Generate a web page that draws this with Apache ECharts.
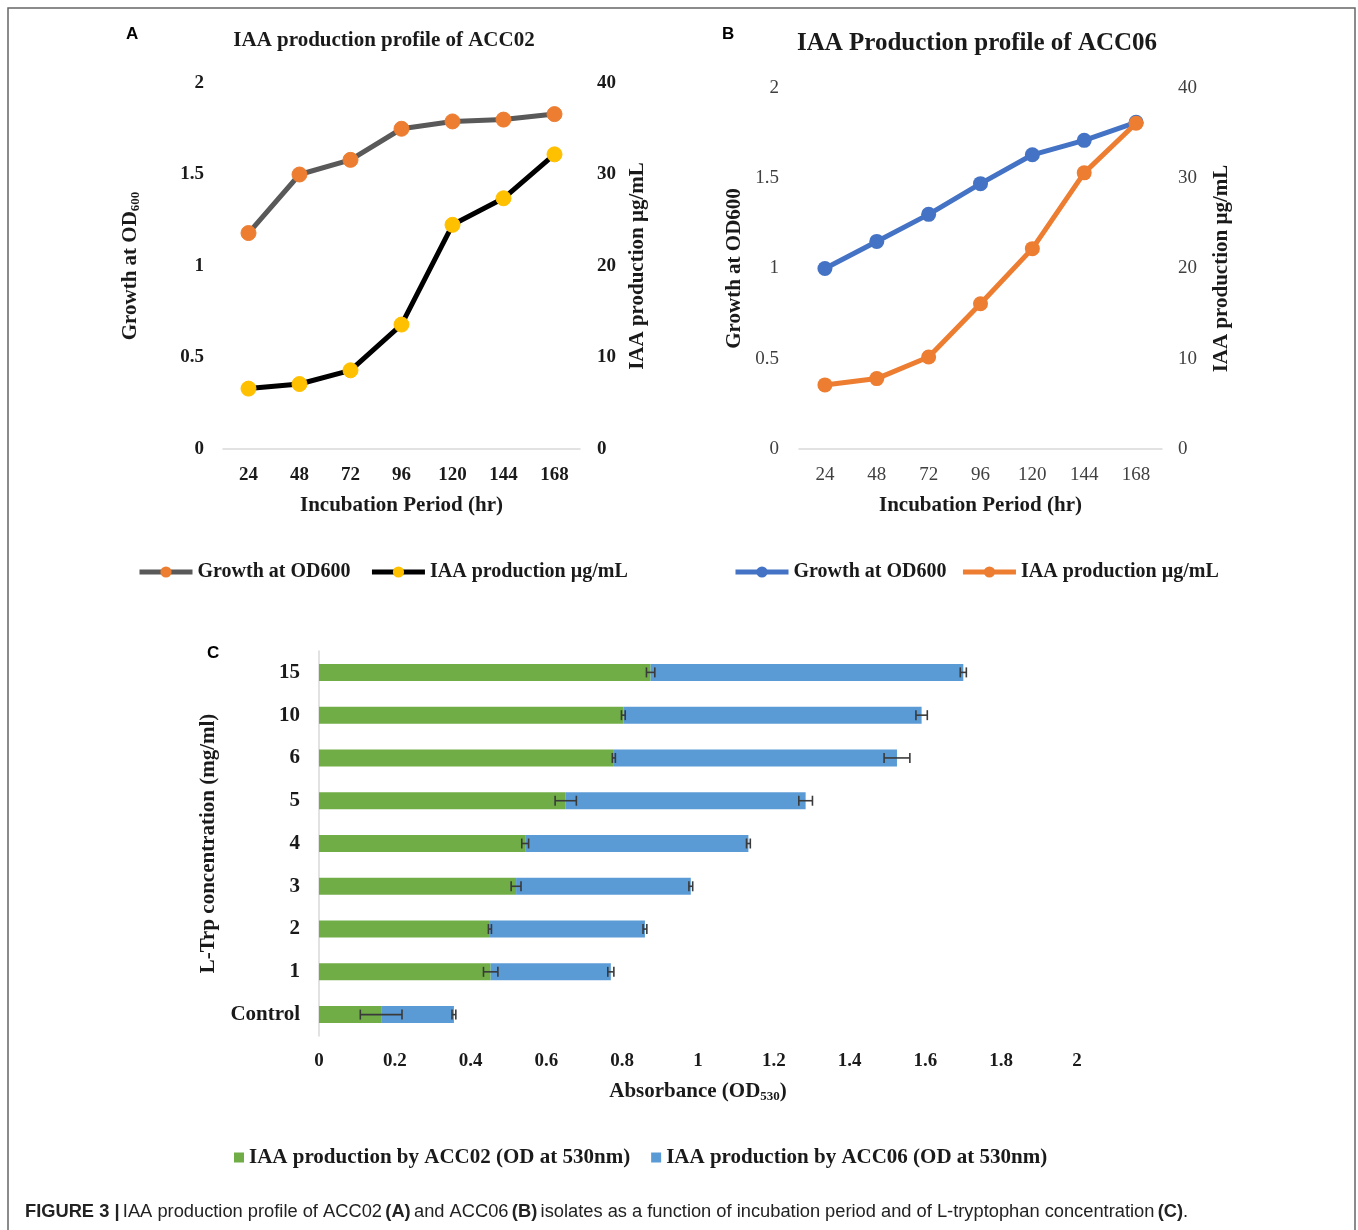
<!DOCTYPE html>
<html><head><meta charset="utf-8">
<script src="https://cdn.jsdelivr.net/npm/echarts@6/dist/echarts.min.js"></script>
<style>html,body{margin:0;padding:0;background:#fff}#c{width:1358px;height:1230px}</style>
</head><body><div id="c"></div>
<script>
// ---- Data ----
const hours = ['24', '48', '72', '96', '120', '144', '168'];
const growthA = [1.18, 1.50, 1.58, 1.75, 1.79, 1.80, 1.83];
const iaaA = [6.6, 7.1, 8.6, 13.6, 24.5, 27.4, 32.2];
const growthB = [1.00, 1.15, 1.30, 1.47, 1.63, 1.71, 1.81];
const iaaB = [7.1, 7.8, 10.2, 16.1, 22.2, 30.6, 36.1];

const trpCats = ['Control', '1', '2', '3', '4', '5', '6', '10', '15'];
const acc02 = [0.164, 0.453, 0.451, 0.520, 0.544, 0.651, 0.778, 0.803, 0.875];
const acc06 = [0.192, 0.317, 0.409, 0.461, 0.589, 0.633, 0.747, 0.787, 0.825];
const acc02Err = [0.055, 0.019, 0.004, 0.013, 0.009, 0.028, 0.004, 0.005, 0.011];
const acc06Err = [0.005, 0.008, 0.005, 0.005, 0.005, 0.018, 0.034, 0.015, 0.008];

// ---- Styles ----
const SERIF = '"Liberation Serif", "DejaVu Serif", serif';
const SANS = '"Liberation Sans", Arial, sans-serif';
const bold19 = { fontFamily: SERIF, fontWeight: 'bold', fontSize: 19, color: '#1a1a1a' };
const bold20 = { fontFamily: SERIF, fontWeight: 'bold', fontSize: 20, color: '#1a1a1a' };
const bold21 = { fontFamily: SERIF, fontWeight: 'bold', fontSize: 21, color: '#1a1a1a' };
const subRich = {
  b: { fontFamily: SERIF, fontWeight: 'bold', fontSize: 21, color: '#1a1a1a' },
  s: { fontFamily: SERIF, fontWeight: 'bold', fontSize: 13, color: '#1a1a1a', verticalAlign: 'bottom', padding: [9, 0, 0, 0] }
};

const chart = echarts.init(document.getElementById('c'), null, { renderer: 'canvas' });

function errBarSeries(name, xIdx, yIdx, data) {
  return {
    type: 'custom', name: name, xAxisIndex: xIdx, yAxisIndex: yIdx, z: 10,
    encode: { x: 0, y: 1 },
    data: data,
    renderItem: function (params, api) {
      const end = api.value(0), idx = api.value(1), err = api.value(2);
      const p1 = api.coord([end - err, idx]);
      const p2 = api.coord([end + err, idx]);
      const h = 5;
      const st = { stroke: '#3a3a3a', lineWidth: 1.6 };
      return {
        type: 'group',
        children: [
          { type: 'line', shape: { x1: p1[0], y1: p1[1], x2: p2[0], y2: p2[1] }, style: st },
          { type: 'line', shape: { x1: p1[0], y1: p1[1] - h, x2: p1[0], y2: p1[1] + h }, style: st },
          { type: 'line', shape: { x1: p2[0], y1: p2[1] - h, x2: p2[0], y2: p2[1] + h }, style: st }
        ]
      };
    }
  };
}

const totals = acc02.map((v, i) => v + acc06[i]);

const option = {
  animation: false,
  backgroundColor: '#fff',
  title: [
    { text: 'IAA production profile of ACC02', left: 379, top: 25, textAlign: 'center',
      textStyle: { fontFamily: SERIF, fontWeight: 'bold', fontSize: 21, color: '#1a1a1a' } },
    { text: 'IAA Production profile of ACC06', left: 972, top: 26, textAlign: 'center',
      textStyle: { fontFamily: SERIF, fontWeight: 'bold', fontSize: 25, color: '#1a1a1a' } }
  ],
  legend: [
    { left: 137, top: 562, padding: 0, itemWidth: 53, itemHeight: 14, itemGap: 19,
      lineStyle: { width: 5 },
      data: ['Growth at OD600', 'IAA production µg/mL'],
      textStyle: bold20 },
    { left: 733, top: 562, padding: 0, itemWidth: 53, itemHeight: 14, itemGap: 14,
      lineStyle: { width: 5 },
      data: ['Growth at OD600 (B)', 'IAA production µg/mL (B)'],
      formatter: n => n.replace(' (B)', ''),
      textStyle: bold20 },
    { left: 234, top: 1147, padding: 0, itemWidth: 10, itemHeight: 10, itemGap: 21, icon: 'rect',
      data: ['IAA production by ACC02 (OD at 530nm)', 'IAA production by ACC06 (OD at 530nm)'],
      textStyle: bold21 }
  ],
  grid: [
    { left: 223, top: 83, width: 357, height: 366, containLabel: false },
    { left: 799, top: 88, width: 363, height: 361, containLabel: false },
    { left: 319, top: 651, width: 758, height: 385, containLabel: false }
  ],
  xAxis: [
    { type: 'category', gridIndex: 0, data: hours, boundaryGap: true,
      axisLine: { lineStyle: { color: '#d9d9d9', width: 1.5 } }, axisTick: { show: false },
      axisLabel: Object.assign({ margin: 17 }, bold19),
      name: 'Incubation Period (hr)', nameLocation: 'middle', nameGap: 46, nameTextStyle: bold21 },
    { type: 'category', gridIndex: 1, data: hours, boundaryGap: true,
      axisLine: { lineStyle: { color: '#d9d9d9', width: 1.5 } }, axisTick: { show: false },
      axisLabel: { margin: 17, fontFamily: SERIF, fontSize: 19, color: '#404040' },
      name: 'Incubation Period (hr)', nameLocation: 'middle', nameGap: 46, nameTextStyle: bold21 },
    { type: 'value', gridIndex: 2, min: 0, max: 2, interval: 0.2,
      axisLine: { show: false }, axisTick: { show: false }, splitLine: { show: false },
      axisLabel: Object.assign({ margin: 16 }, bold19),
      name: '{b|Absorbance (OD}{s|530}{b|)}', nameLocation: 'middle', nameGap: 45,
      nameTextStyle: { rich: subRich } }
  ],
  yAxis: [
    { type: 'value', gridIndex: 0, min: 0, max: 2, interval: 0.5,
      axisLine: { show: false }, axisTick: { show: false }, splitLine: { show: false },
      axisLabel: Object.assign({ margin: 19 }, bold19),
      name: '{b|Growth at OD}{s|600}', nameLocation: 'middle', nameGap: 81, nameRotate: 90,
      nameTextStyle: { rich: subRich } },
    { type: 'value', gridIndex: 0, position: 'right', min: 0, max: 40, interval: 10,
      axisLine: { show: false }, axisTick: { show: false }, splitLine: { show: false },
      axisLabel: Object.assign({ margin: 17 }, bold19),
      name: 'IAA production µg/mL', nameLocation: 'middle', nameGap: 47, nameRotate: 90,
      nameTextStyle: bold21 },
    { type: 'value', gridIndex: 1, min: 0, max: 2, interval: 0.5,
      axisLine: { show: false }, axisTick: { show: false }, splitLine: { show: false },
      axisLabel: { margin: 20, fontFamily: SERIF, fontSize: 19, color: '#404040' },
      name: 'Growth at OD600', nameLocation: 'middle', nameGap: 54, nameRotate: 90,
      nameTextStyle: bold21 },
    { type: 'value', gridIndex: 1, position: 'right', min: 0, max: 40, interval: 10,
      axisLine: { show: false }, axisTick: { show: false }, splitLine: { show: false },
      axisLabel: { margin: 16, fontFamily: SERIF, fontSize: 19, color: '#404040' },
      name: 'IAA production µg/mL', nameLocation: 'middle', nameGap: 49, nameRotate: 90,
      nameTextStyle: bold21 },
    { type: 'category', gridIndex: 2, data: trpCats, boundaryGap: true,
      axisLine: { lineStyle: { color: '#d9d9d9', width: 1.5 } }, axisTick: { show: false },
      axisLabel: Object.assign({ margin: 19 }, bold21),
      name: 'L-Trp concentration (mg/ml)', nameLocation: 'middle', nameGap: 96, nameRotate: 90,
      nameTextStyle: bold21 }
  ],
  series: [
    { name: 'Growth at OD600', type: 'line', xAxisIndex: 0, yAxisIndex: 0, data: growthA,
      symbol: 'circle', symbolSize: 15, lineStyle: { color: '#595959', width: 5 },
      itemStyle: { color: '#ED7D31', borderColor: '#ED7D31' } },
    { name: 'IAA production µg/mL', type: 'line', xAxisIndex: 0, yAxisIndex: 1, data: iaaA,
      symbol: 'circle', symbolSize: 15, lineStyle: { color: '#000000', width: 5 },
      itemStyle: { color: '#FFC000', borderColor: '#FFC000' } },
    { name: 'Growth at OD600 (B)', type: 'line', xAxisIndex: 1, yAxisIndex: 2, data: growthB,
      symbol: 'circle', symbolSize: 15, lineStyle: { color: '#4472C4', width: 5 },
      itemStyle: { color: '#4472C4' } },
    { name: 'IAA production µg/mL (B)', type: 'line', xAxisIndex: 1, yAxisIndex: 3, data: iaaB,
      symbol: 'circle', symbolSize: 15, lineStyle: { color: '#ED7D31', width: 5 },
      itemStyle: { color: '#ED7D31' } },
    { name: 'IAA production by ACC02 (OD at 530nm)', type: 'bar', xAxisIndex: 2, yAxisIndex: 4,
      stack: 'c', data: acc02, barWidth: 17, itemStyle: { color: '#70AD47' } },
    { name: 'IAA production by ACC06 (OD at 530nm)', type: 'bar', xAxisIndex: 2, yAxisIndex: 4,
      stack: 'c', data: acc06, barWidth: 17, itemStyle: { color: '#5B9BD5' } },
    errBarSeries('errA', 2, 4, acc02.map((v, i) => [v, i, acc02Err[i]])),
    errBarSeries('errB', 2, 4, totals.map((v, i) => [v, i, acc06Err[i]]))
  ],
  graphic: [
    { type: 'rect', shape: { x: 8, y: 8, width: 1347, height: 1260 }, silent: true,
      style: { fill: 'none', stroke: '#666', lineWidth: 1.5 } },
    { type: 'text', x: 126, y: 26, style: { text: 'A', font: 'bold 17px ' + SANS, fill: '#000' } },
    { type: 'text', x: 722, y: 26, style: { text: 'B', font: 'bold 17px ' + SANS, fill: '#000' } },
    { type: 'text', x: 207, y: 645, style: { text: 'C', font: 'bold 17px ' + SANS, fill: '#000' } },
    { type: 'text', x: 25, y: 1203, style: {
        text: '{b|FIGURE 3 |} {n|IAA production profile of ACC02} {b|(A)} {n|and ACC06} {b|(B)} {n|isolates as a function of incubation period and of L-tryptophan concentration} {b|(C)}{n|.}',
        rich: {
          b: { fontFamily: SANS, fontWeight: 'bold', fontSize: 18.3, fill: '#222' },
          n: { fontFamily: SANS, fontSize: 18.3, fill: '#222' }
        } } }
  ]
};
chart.setOption(option);
</script>
</body></html>
